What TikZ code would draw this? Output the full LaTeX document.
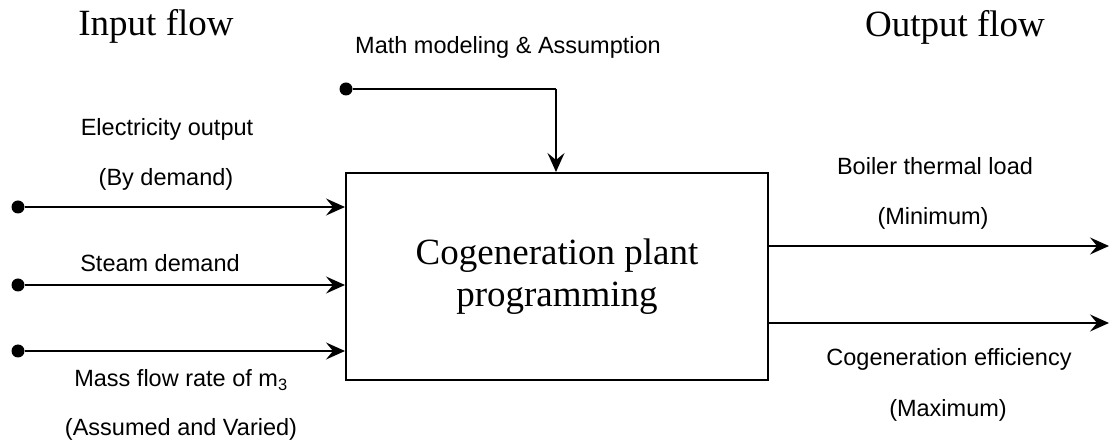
\documentclass[tikz,border=0pt]{standalone}
\usepackage{fontspec}
\setmainfont{Liberation Serif}
\setsansfont{Liberation Sans}
\usetikzlibrary{arrows.meta}
\begin{document}
\begin{tikzpicture}[x=1pt,y=-1pt,
  conn/.style={line width=1.4pt,-{Stealth[length=19pt,width=17pt,inset=7pt]}},
  plain/.style={line width=1.4pt},
  dot/.style={circle,fill=black,inner sep=0pt,minimum size=13pt},
  lab/.style={font=\fontsize{23.5}{26}\selectfont\sffamily, inner sep=0pt},
  title/.style={font=\fontsize{37}{40}\selectfont\rmfamily, inner sep=0pt},
  box/.style={draw,line width=2pt,minimum width=422pt,minimum height=207pt,inner sep=0pt,
    align=center,font=\fontsize{37}{42}\selectfont\rmfamily}
]
\useasboundingbox (0,0) rectangle (1112,443);

% titles
\node[title] (tin) at (156,26) {Input flow};
\node[title] (tout) at (955,27) {Output flow};

% main box
\node[box] (B) at (557,276.5) {Cogeneration plant\\programming};

% math modeling input
\node[lab] (tmath) at (508,47) {Math modeling \& Assumption};
\node[dot] (dm) at (346,89) {};
\coordinate (mc) at (556,89);
\draw[plain] (dm) -- (mc);
\draw[conn] (mc) -- (B.north -| mc);

% inputs
\node[dot] (d1) at (18,207) {};
\node[dot] (d2) at (18,285) {};
\node[dot] (d3) at (18,351) {};
\draw[conn] (d1) -- (B.west |- d1);
\draw[conn] (d2) -- (B.west |- d2);
\draw[conn] (d3) -- (B.west |- d3);

\node[lab] (l1a) at (167,129) {Electricity output};
\node[lab] (l1b) at (166,179) {(By demand)};
\node[lab] (l2) at (160,263) {Steam demand};
\node[lab] (l3a) at (181,380) {Mass flow rate of m\textsubscript{3}};
\node[lab] (l3b) at (181,429) {(Assumed and Varied)};

% outputs
\coordinate (o1) at (1109,246);
\coordinate (o2) at (1109,323);
\draw[conn] (B.east |- o1) -- (o1);
\draw[conn] (B.east |- o2) -- (o2);

\node[lab] (r1a) at (935,166) {Boiler thermal load};
\node[lab] (r1b) at (933,218) {(Minimum)};
\node[lab] (r2a) at (949,359) {Cogeneration efficiency};
\node[lab] (r2b) at (948,410) {(Maximum)};
\end{tikzpicture}
\end{document}
